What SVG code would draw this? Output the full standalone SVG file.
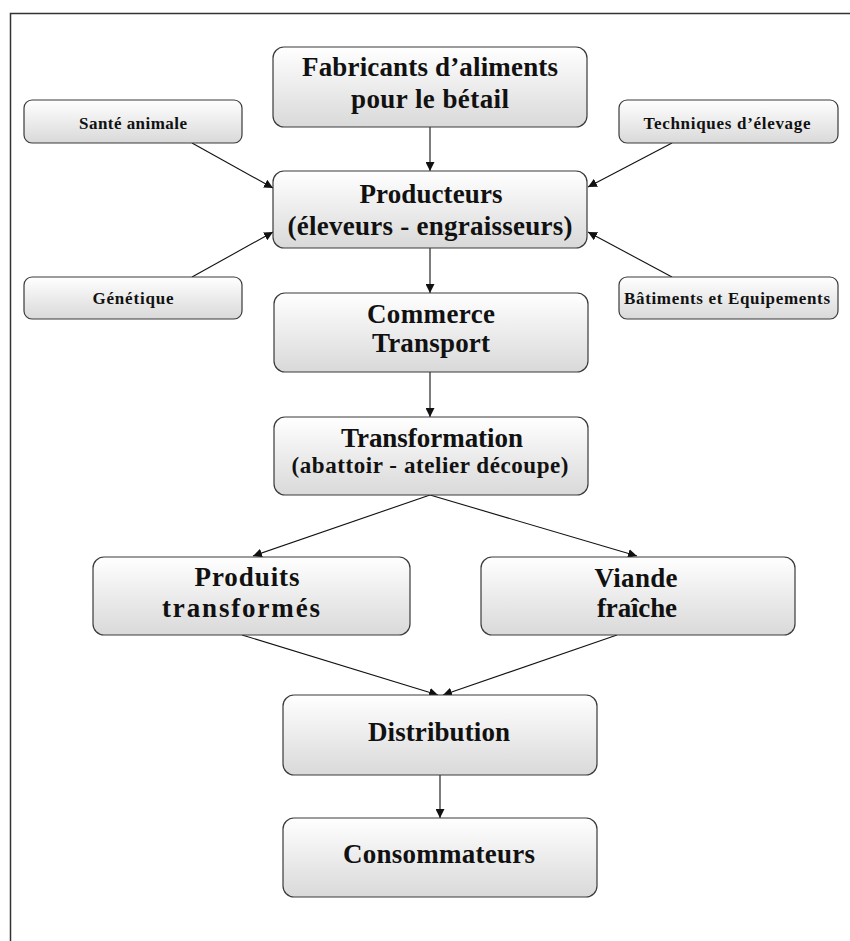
<svg xmlns="http://www.w3.org/2000/svg" width="850" height="941" viewBox="0 0 850 941">
<style>
.box{fill:url(#g);stroke:#3a3a3a;stroke-width:1.2}
.t{font-family:"Liberation Serif","Times New Roman",serif;font-weight:bold;fill:#111;text-anchor:middle}
.big{font-size:27px}
.mid{font-size:23px}
.sm{font-size:17px}
.c{stroke:#111;stroke-width:1.1;fill:none;marker-end:url(#a)}
</style>
<defs>
<linearGradient id="g" x1="0" y1="0" x2="0" y2="1">
<stop offset="0" stop-color="#ffffff"/>
<stop offset="1" stop-color="#d9d9d9"/>
</linearGradient>
<marker id="a" viewBox="0 0 10 10" refX="10" refY="5" markerWidth="9" markerHeight="9" markerUnits="userSpaceOnUse" orient="auto">
<path d="M0,0 L10,5 L0,10 z" fill="#111"/>
</marker>
</defs>
<rect width="850" height="941" fill="#fff"/>
<path d="M850,13.5 H10.5 V941" fill="none" stroke="#333" stroke-width="1.5"/>

<g id="connectors">
<line class="c" x1="430" y1="127" x2="430" y2="171"/>
<line class="c" x1="192" y1="143" x2="273" y2="188"/>
<line class="c" x1="192" y1="277" x2="273" y2="232"/>
<line class="c" x1="672" y1="143" x2="588" y2="187"/>
<line class="c" x1="672" y1="277" x2="588" y2="232"/>
<line class="c" x1="430" y1="248" x2="430" y2="293"/>
<line class="c" x1="430" y1="372" x2="430" y2="417"/>
<line class="c" x1="430" y1="495" x2="253" y2="556"/>
<line class="c" x1="430" y1="495" x2="637" y2="556"/>
<line class="c" x1="242" y1="635" x2="438" y2="695"/>
<line class="c" x1="617" y1="635" x2="443" y2="695"/>
<line class="c" x1="440" y1="775" x2="440" y2="818"/>
</g>

<g id="fabricants">
<rect class="box" x="273" y="47" width="314" height="80" rx="11"/>
<text class="t big" x="430" y="76" textLength="256" lengthAdjust="spacing">Fabricants d’aliments</text>
<text class="t big" x="430" y="108" textLength="158" lengthAdjust="spacing">pour le bétail</text>
</g>

<g id="producteurs">
<rect class="box" x="273" y="171" width="314" height="77" rx="11"/>
<text class="t big" x="431" y="203" textLength="143" lengthAdjust="spacing">Producteurs</text>
<text class="t big" x="430" y="235" textLength="285" lengthAdjust="spacing">(éleveurs - engraisseurs)</text>
</g>

<g id="sante">
<rect class="box" x="24" y="100" width="218" height="43" rx="8"/>
<text class="t sm" x="133" y="129" textLength="108" lengthAdjust="spacing">Santé animale</text>
</g>

<g id="genetique">
<rect class="box" x="24" y="277" width="218" height="42" rx="8"/>
<text class="t sm" x="133" y="304" textLength="81" lengthAdjust="spacing">Génétique</text>
</g>

<g id="techniques">
<rect class="box" x="619" y="100" width="219" height="43" rx="8"/>
<text class="t sm" x="727" y="129" textLength="167" lengthAdjust="spacing">Techniques d’élevage</text>
</g>

<g id="batiments">
<rect class="box" x="619" y="277" width="219" height="42" rx="8"/>
<text class="t sm" x="727" y="304" textLength="206" lengthAdjust="spacing">Bâtiments et Equipements</text>
</g>

<g id="commerce">
<rect class="box" x="274" y="293" width="314" height="79" rx="11"/>
<text class="t big" x="431" y="323" textLength="128" lengthAdjust="spacing">Commerce</text>
<text class="t big" x="431" y="352" textLength="118" lengthAdjust="spacing">Transport</text>
</g>

<g id="transformation">
<rect class="box" x="274" y="417" width="314" height="78" rx="11"/>
<text class="t big" x="432" y="447" textLength="182" lengthAdjust="spacing">Transformation</text>
<text class="t mid" x="430" y="473" textLength="277" lengthAdjust="spacing">(abattoir - atelier découpe)</text>
</g>

<g id="produits">
<rect class="box" x="93" y="557" width="317" height="78" rx="11"/>
<text class="t big" x="247" y="586" textLength="105" lengthAdjust="spacing">Produits</text>
<text class="t big" x="241" y="617" textLength="158" lengthAdjust="spacing">transformés</text>
</g>

<g id="viande">
<rect class="box" x="481" y="557" width="314" height="78" rx="11"/>
<text class="t big" x="636" y="587" textLength="83" lengthAdjust="spacing">Viande</text>
<text class="t big" x="637" y="617" textLength="80" lengthAdjust="spacing">fraîche</text>
</g>

<g id="distribution">
<rect class="box" x="283" y="695" width="314" height="80" rx="11"/>
<text class="t big" x="439" y="741" textLength="142" lengthAdjust="spacing">Distribution</text>
</g>

<g id="consommateurs">
<rect class="box" x="283" y="818" width="314" height="79" rx="11"/>
<text class="t big" x="439" y="863" textLength="192" lengthAdjust="spacing">Consommateurs</text>
</g>
</svg>
